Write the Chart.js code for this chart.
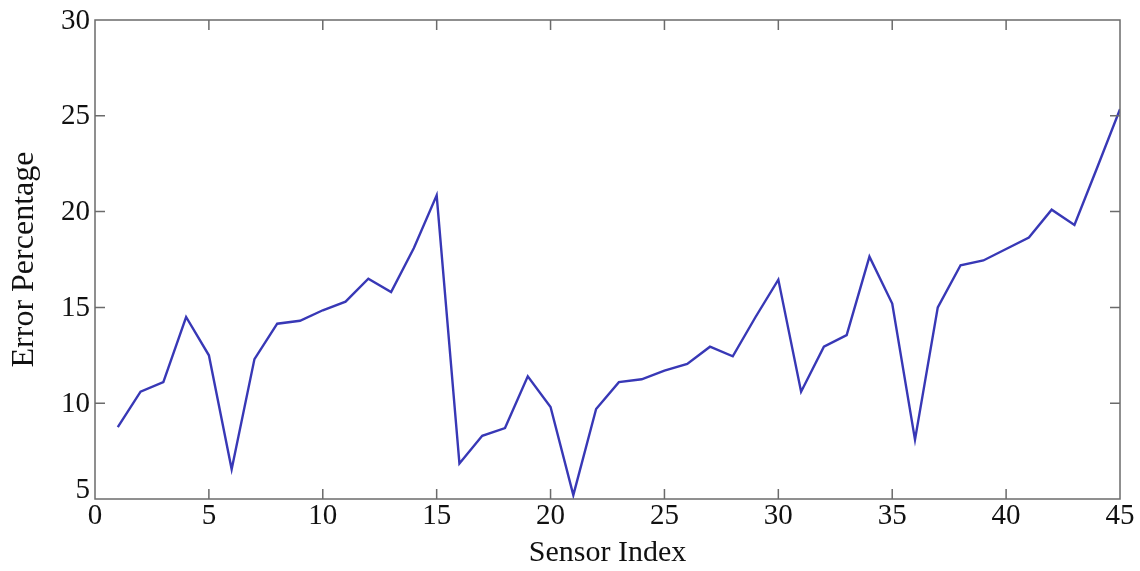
<!DOCTYPE html>
<html>
<head>
<meta charset="utf-8">
<script src="https://cdn.jsdelivr.net/npm/chart.js@4/dist/chart.umd.min.js"></script>
<style>
  html, body { margin: 0; padding: 0; background: #ffffff; }
  #wrap { width: 1140px; height: 571px; position: relative; }
</style>
</head>
<body>
<div id="wrap"><canvas id="c"></canvas></div>
<script>
// Sensor indices 1..45 and the error percentage measured at each
const sensorIndex = [1,2,3,4,5,6,7,8,9,10,11,12,13,14,15,16,17,18,19,20,21,22,23,24,25,26,27,28,29,30,31,32,33,34,35,36,37,38,39,40,41,42,43,44,45];
const errorPercent = [8.75,10.6,11.1,14.5,12.5,6.55,12.3,14.15,14.3,14.85,15.3,16.5,15.8,18.1,20.85,6.85,8.3,8.7,11.4,9.8,5.2,9.7,11.1,11.25,11.7,12.05,12.95,12.45,14.5,16.45,10.6,12.95,13.55,17.65,15.2,8.1,15.0,17.2,17.45,18.05,18.65,20.1,19.3,22.3,25.35];
const xTicks = [0,5,10,15,20,25,30,35,40,45];
const yTicks = [5,10,15,20,25,30];

const serif = '"Liberation Serif", "Times New Roman", "DejaVu Serif", serif';
const frameColor = '#6b6b6b';
const textColor = '#111111';

// Box around the plot, inward tick marks on all four sides, and y tick labels
const framePlugin = {
  id: 'frame',
  afterDraw(chart) {
    const { ctx, chartArea: a, scales } = chart;
    const xs = scales.x, ys = scales.y;
    const len = 10;
    ctx.save();
    ctx.strokeStyle = frameColor;
    ctx.lineWidth = 1.5;
    ctx.beginPath();
    xTicks.forEach(v => {
      const px = xs.getPixelForValue(v);
      if (v === xs.min || v === xs.max) return;
      ctx.moveTo(px, a.bottom); ctx.lineTo(px, a.bottom - len);
      ctx.moveTo(px, a.top); ctx.lineTo(px, a.top + len);
    });
    yTicks.forEach(v => {
      const py = ys.getPixelForValue(v);
      if (v === ys.min || v === ys.max) return;
      ctx.moveTo(a.left, py); ctx.lineTo(a.left + len, py);
      ctx.moveTo(a.right, py); ctx.lineTo(a.right - len, py);
    });
    ctx.stroke();
    ctx.strokeRect(a.left, a.top, a.right - a.left, a.bottom - a.top);

    ctx.fillStyle = textColor;
    ctx.font = '29px ' + serif;
    ctx.textAlign = 'right';
    yTicks.forEach(v => {
      const py = ys.getPixelForValue(v);
      if (v === ys.min) {
        ctx.textBaseline = 'alphabetic';
        ctx.fillText(String(v), a.left - 5, py - 1);
      } else {
        ctx.textBaseline = 'middle';
        ctx.fillText(String(v), a.left - 5, py + 1);
      }
    });
    ctx.restore();
  }
};

new Chart(document.getElementById('c'), {
  type: 'line',
  data: {
    datasets: [{
      data: sensorIndex.map((s, i) => ({ x: s, y: errorPercent[i] })),
      borderColor: '#3838b6',
      borderWidth: 2.4,
      pointRadius: 0,
      tension: 0,
      fill: false
    }]
  },
  options: {
    responsive: true,
    maintainAspectRatio: false,
    animation: false,
    events: [],
    layout: { padding: { top: 20, right: 20, left: 0, bottom: 0 } },
    plugins: { legend: { display: false }, tooltip: { enabled: false } },
    scales: {
      x: {
        type: 'linear',
        min: 0, max: 45,
        afterBuildTicks(scale) { scale.ticks = xTicks.map(v => ({ value: v })); },
        grid: { display: false, drawTicks: false },
        border: { display: false },
        ticks: {
          font: { family: serif, size: 29 },
          color: textColor,
          padding: 0,
          maxRotation: 0,
          autoSkip: false
        },
        title: {
          display: true,
          text: 'Sensor Index',
          font: { family: serif, size: 30 },
          color: textColor,
          padding: { top: 3, bottom: 0 }
        },
        afterFit(scale) { scale.height = 72; }
      },
      y: {
        type: 'linear',
        min: 5, max: 30,
        afterBuildTicks(scale) { scale.ticks = yTicks.map(v => ({ value: v })); },
        grid: { display: false, drawTicks: false },
        border: { display: false },
        ticks: { display: false },
        title: {
          display: true,
          text: 'Error Percentage',
          font: { family: serif, size: 32 },
          color: textColor,
          padding: { top: 5, bottom: 0 }
        },
        afterFit(scale) { scale.width = 95; }
      }
    }
  },
  plugins: [framePlugin]
});
</script>
</body>
</html>
